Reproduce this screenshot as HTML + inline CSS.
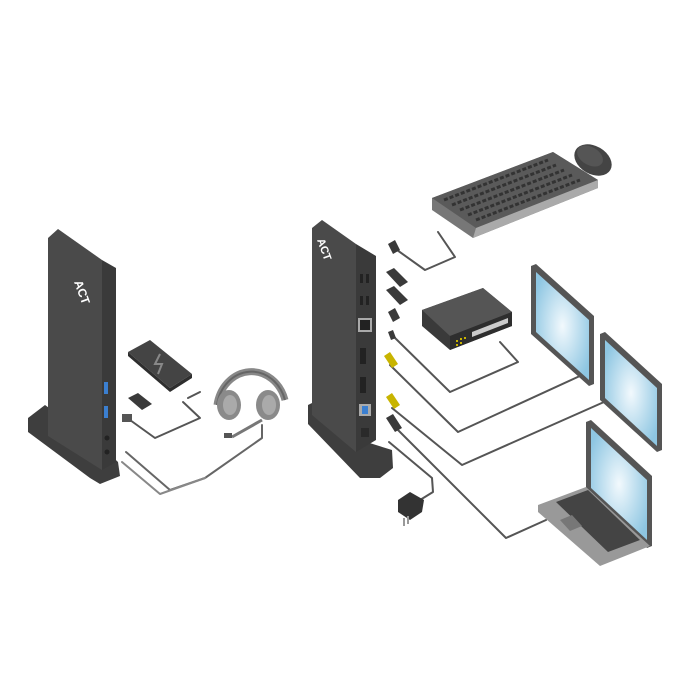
<!DOCTYPE html>
<html><head><style>html,body{margin:0;padding:0;background:#fff;width:700px;height:700px;overflow:hidden}</style></head>
<body>
<svg width="700" height="700" viewBox="0 0 700 700" xmlns="http://www.w3.org/2000/svg">
<defs>
<radialGradient id="scr" cx="0.5" cy="0.5" r="0.6"><stop offset="0" stop-color="#f2f9fd"/><stop offset="1" stop-color="#8ec6e2"/></radialGradient>
</defs>
<rect width="700" height="700" fill="#fff"/>
<g fill="none" stroke="#555" stroke-width="2" stroke-linejoin="round" stroke-linecap="round">
<!-- left cables -->
<path d="M130 420 L155 438 L200 418 L183 402"/>
<path d="M188 398 L200 392" />
<path d="M126 452 L170 490 L205 478 L262 438 L262 425" stroke="#666"/>
<path d="M122 462 L160 494 L205 478" stroke="#888"/>
<!-- right cables -->
<path d="M397 250 L425 270 L455 257 L438 232"/>
<path d="M392 335 L450 392 L518 362 L500 342"/>
<path d="M390 365 L458 432 L582 375"/>
<path d="M392 408 L462 465 L604 402"/>
<path d="M398 430 L506 538 L546 520"/>
<path d="M389 442 L432 478 L433 492 L420 500"/>
</g>
<!-- LEFT DOCK -->
<polygon points="28,418 45,405 100,445 118,462 120,476 100,484 90,478 28,432" fill="#3e3e3e"/>
<polygon points="48,238 58,229 102,260 102,470 48,436" fill="#4a4a4a"/>
<polygon points="102,260 116,268 116,462 102,470" fill="#3a3a3a"/>
<text x="0" y="0" transform="translate(74,282) rotate(70)" font-family="Liberation Sans, sans-serif" font-weight="bold" font-size="12" fill="#fff">ACT</text>
<rect x="104" y="382" width="4" height="12" fill="#3b7fd0"/>
<rect x="104" y="406" width="4" height="12" fill="#3b7fd0"/>
<circle cx="107" cy="438" r="2.5" fill="#222"/>
<circle cx="107" cy="452" r="2.5" fill="#222"/>
<!-- phone -->
<polygon points="128,352 150,340 192,374 170,388" fill="#444"/>
<polygon points="170,388 192,374 192,378 170,392 128,356 128,352" fill="#2e2e2e"/>
<path d="M160 354 L155 364 L162 364 L158 374" stroke="#888" stroke-width="2" fill="none"/>
<!-- dongles -->
<polygon points="128,398 138,393 152,404 142,410" fill="#3a3a3a"/>
<rect x="122" y="414" width="10" height="8" fill="#555"/>
<!-- headset -->
<path d="M217 405 A35 40 0 0 1 285 400" fill="none" stroke="#888" stroke-width="7"/>
<path d="M217 405 A35 40 0 0 1 285 400" fill="none" stroke="#666" stroke-width="2"/>
<ellipse cx="229" cy="405" rx="12" ry="15" fill="#8a8a8a"/>
<ellipse cx="230" cy="405" rx="7" ry="10" fill="#aaa"/>
<ellipse cx="268" cy="405" rx="12" ry="15" fill="#8a8a8a"/>
<ellipse cx="269" cy="405" rx="7" ry="10" fill="#aaa"/>
<path d="M262 420 L232 437" stroke="#777" stroke-width="3"/>
<rect x="224" y="433" width="8" height="5" fill="#555"/>
<!-- RIGHT DOCK -->
<polygon points="308,405 318,400 360,440 392,450 393,468 380,478 360,478 308,424" fill="#3e3e3e"/>
<polygon points="312,228 322,220 356,244 356,452 312,415" fill="#4a4a4a"/>
<polygon points="356,244 376,256 376,440 356,452" fill="#3a3a3a"/>
<text x="0" y="0" transform="translate(317,240) rotate(70)" font-family="Liberation Sans, sans-serif" font-weight="bold" font-size="11" fill="#fff">ACT</text>
<g fill="#222">
<rect x="360" y="274" width="3" height="9"/><rect x="366" y="274" width="3" height="9"/>
<rect x="360" y="296" width="3" height="9"/><rect x="366" y="296" width="3" height="9"/>
<rect x="360" y="348" width="6" height="16"/><rect x="360" y="377" width="6" height="16"/>
</g>
<rect x="358" y="318" width="14" height="14" fill="#aaa"/><rect x="360" y="320" width="10" height="10" fill="#222"/>
<rect x="359" y="404" width="12" height="12" fill="#aaa"/><rect x="362" y="406" width="6" height="8" fill="#3b7fd0"/>
<rect x="361" y="428" width="8" height="9" fill="#2a2a2a"/>
<!-- connectors -->
<g fill="#3a3a3a">
<polygon points="388,244 395,240 400,250 393,254"/>
<polygon points="386,272 394,268 408,282 400,287"/>
<polygon points="386,290 394,286 408,300 400,305"/>
<polygon points="388,312 395,308 400,318 393,322"/>
<polygon points="388,332 393,330 396,338 391,340"/>
<polygon points="384,356 390,352 398,364 392,368" fill="#c8b400"/>
<polygon points="386,397 392,393 400,405 394,409" fill="#c8b400"/>
<polygon points="386,418 393,414 402,428 395,432"/>
</g>
<!-- charger -->
<polygon points="398,500 410,492 424,500 422,512 410,520 398,512" fill="#333"/>
<line x1="404" y1="518" x2="404" y2="526" stroke="#999" stroke-width="2"/>
<line x1="408" y1="516" x2="408" y2="524" stroke="#999" stroke-width="2"/>
<!-- keyboard -->
<polygon points="432,198 553,152 598,180 598,188 473,238 432,210" fill="#777"/>
<polygon points="432,198 553,152 598,180 476,228" fill="#5a5a5a"/>
<polygon points="476,228 598,180 598,188 473,238" fill="#aaa"/>
<g stroke="#333" stroke-width="3" stroke-dasharray="4 2">
<line x1="444" y1="200" x2="548" y2="160"/>
<line x1="452" y1="205" x2="556" y2="165"/>
<line x1="460" y1="210" x2="564" y2="170"/>
<line x1="468" y1="215" x2="572" y2="175"/>
<line x1="476" y1="220" x2="580" y2="180"/>
</g>
<ellipse cx="593" cy="160" rx="20" ry="14" transform="rotate(30 593 160)" fill="#444"/>
<ellipse cx="590" cy="156" rx="14" ry="9" transform="rotate(30 590 156)" fill="#555"/>
<!-- switch -->
<polygon points="422,310 483,288 512,312 512,326 450,350 422,326" fill="#3a3a3a"/>
<polygon points="422,310 483,288 512,312 450,336" fill="#555"/>
<polygon points="450,336 512,312 512,326 450,350" fill="#2e2e2e"/>
<polygon points="472,332 508,318 508,323 472,337" fill="#ccc"/>
<g fill="#c8b400"><rect x="456" y="340" width="2" height="2"/><rect x="460" y="338" width="2" height="2"/><rect x="464" y="337" width="2" height="2"/><rect x="456" y="344" width="2" height="2"/><rect x="460" y="342" width="2" height="2"/></g>
<!-- monitors -->
<polygon points="531,266 536,264 594,316 594,384 589,386 531,334" fill="#555"/>
<polygon points="536,272 589,320 589,380 536,332" fill="url(#scr)"/>
<polygon points="600,334 605,332 662,384 662,450 657,452 600,400" fill="#555"/>
<polygon points="605,340 657,388 657,446 605,398" fill="url(#scr)"/>
<!-- laptop -->
<polygon points="586,422 591,420 652,476 652,546 647,548 586,492" fill="#555"/>
<polygon points="591,428 647,480 647,540 591,488" fill="url(#scr)"/>
<polygon points="538,505 586,487 650,546 600,566 538,512" fill="#999"/>
<polygon points="556,502 588,490 640,540 608,552" fill="#444"/>
<polygon points="560,520 572,515 582,526 570,531" fill="#777"/>
</svg>
</body></html>
